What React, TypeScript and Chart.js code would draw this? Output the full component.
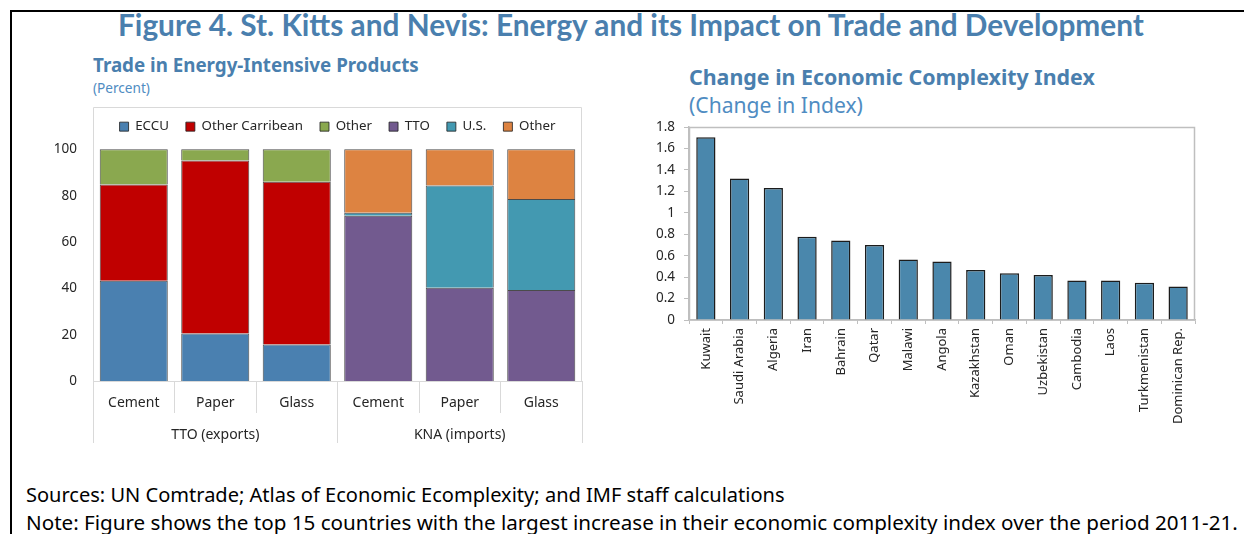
import React, { useEffect, useRef } from 'react';
import { Chart, registerables } from 'chart.js';

Chart.register(...registerables);

// ---------- Data: left chart ----------
const tradeCategories = ['Cement', 'Paper', 'Glass', 'Cement', 'Paper', 'Glass'];
const tradeGroups = ['TTO (exports)', 'KNA (imports)'];
const eccu = [43.3, 20.5, 15.8, null, null, null];
const otherCaribbean = [41.5, 74.7, 70.2, null, null, null];
const otherExports = [15.2, 4.8, 14.0, null, null, null];
const tto = [null, null, null, 71.3, 40.3, 39.3];
const us = [null, null, null, 1.3, 44.1, 39.3];
const otherImports = [null, null, null, 27.4, 15.6, 21.4];
const tradeYTicks = [0, 20, 40, 60, 80, 100];

// ---------- Data: right chart ----------
const countries = ['Kuwait', 'Saudi Arabia', 'Algeria', 'Iran', 'Bahrain', 'Qatar', 'Malawi', 'Angola', 'Kazakhstan', 'Oman', 'Uzbekistan', 'Cambodia', 'Laos', 'Turkmenistan', 'Dominican Rep.'];
const eciChange = [1.705, 1.321, 1.232, 0.777, 0.743, 0.700, 0.565, 0.547, 0.467, 0.436, 0.421, 0.369, 0.369, 0.347, 0.313];
const eciTicks = [0, 0.2, 0.4, 0.6, 0.8, 1, 1.2, 1.4, 1.6, 1.8];
const eciTickLabels = ['0', '0.2', '0.4', '0.6', '0.8', '1', '1.2', '1.4', '1.6', '1.8'];

const FONT = "'Noto Sans', sans-serif";
const TEXT = '#262626';

Chart.defaults.font.family = FONT;
Chart.defaults.color = TEXT;

const measureCtx = typeof document !== 'undefined' ? document.createElement('canvas').getContext('2d') : null;
function fitSize(text: string, family: string, weight: number, width: number) {
  if (!measureCtx) return 16;
  measureCtx.font = `${weight} 100px ${family}`;
  const w = measureCtx.measureText(text).width;
  return (100 * width) / w;
}

function FitText(props: { text: string; left: number; width: number; cy: number; family: string; weight: number; color: string }) {
  const fs = fitSize(props.text, props.family, props.weight, props.width);
  return (
    <div
      style={{
        position: 'absolute',
        left: props.left,
        top: props.cy - 0.53 * fs,
        fontFamily: props.family,
        fontWeight: props.weight,
        fontSize: fs,
        lineHeight: `${fs}px`,
        color: props.color,
        whiteSpace: 'nowrap',
      }}
    >
      {props.text}
    </div>
  );
}

const framePlugin = {
  id: 'frame',
  beforeDatasetsDraw(chart: any, _args: any, opts: any) {
    const { ctx, chartArea: a } = chart;
    const top = opts.top != null ? opts.top : a.top;
    ctx.save();
    ctx.strokeStyle = opts.color || '#d9d9d9';
    ctx.lineWidth = opts.width || 1;
    ctx.beginPath();
    ctx.moveTo(Math.round(a.left) + 0.5, a.bottom);
    ctx.lineTo(Math.round(a.left) + 0.5, Math.round(top) + 0.5);
    ctx.lineTo(Math.round(a.right) - 0.5, Math.round(top) + 0.5);
    ctx.lineTo(Math.round(a.right) - 0.5, a.bottom);
    if (opts.closeBottom) ctx.lineTo(Math.round(a.left) + 0.5, a.bottom);
    ctx.stroke();
    ctx.restore();
  },
};

function TradeChart() {
  const ref = useRef<HTMLCanvasElement>(null);
  useEffect(() => {
    const border = 'rgba(30,30,30,0.8)';
    const mk = (label: string, data: any[], color: string) => ({
      label,
      data,
      backgroundColor: color,
      borderColor: border,
      borderWidth: 1,
      categoryPercentage: 1,
      barPercentage: 0.835,
    });
    const chart = new Chart(ref.current!, {
      type: 'bar',
      data: {
        labels: tradeCategories,
        datasets: [
          mk('ECCU', eccu, '#4a80b0'),
          mk('Other Carribean', otherCaribbean, '#c00000'),
          mk('Other', otherExports, '#8aa84f'),
          mk('TTO', tto, '#725a8f'),
          mk('U.S.', us, '#4399b1'),
          mk('Other', otherImports, '#dd8341'),
        ],
      },
      plugins: [framePlugin],
      options: {
        responsive: false,
        animation: false,
        layout: { padding: { left: 0, right: 18, top: 0, bottom: 0 } },
        plugins: {
          legend: {
            display: true,
            position: 'top',
            align: 'center',
            fullSize: false,
            labels: { boxWidth: 9, boxHeight: 9, padding: 17, color: TEXT, font: { size: 13.3 } },
          },
          tooltip: { enabled: false },
          frame: { top: 4, color: '#d9d9d9', width: 1 },
        } as any,
        scales: {
          x: {
            stacked: true,
            offset: true,
            weight: 0,
            grid: { display: true, offset: true, drawOnChartArea: false, drawTicks: true, tickLength: 32, color: '#d9d9d9' },
            border: { display: true, color: '#d9d9d9' },
            ticks: { padding: -18, color: TEXT, font: { size: 14 }, autoSkip: false, maxRotation: 0 },
            afterFit: (s: any) => { s.height = 32; },
          },
          x2: {
            type: 'category',
            axis: 'x',
            position: 'bottom',
            labels: tradeGroups,
            offset: true,
            weight: 1,
            grid: { display: true, offset: true, drawOnChartArea: false, drawTicks: true, tickLength: 30, color: '#d9d9d9' },
            border: { display: false },
            ticks: { padding: -16, color: TEXT, font: { size: 14 }, autoSkip: false, maxRotation: 0 },
            afterFit: (s: any) => { s.height = 30; },
          },
          y: {
            stacked: true,
            min: 0,
            max: 102.6,
            grid: { display: false, drawTicks: false },
            border: { display: false },
            ticks: { padding: 16, color: TEXT, font: { size: 13.5 } },
            afterBuildTicks: (s: any) => { s.ticks = tradeYTicks.map((v) => ({ value: v })); },
            afterFit: (s: any) => { s.width = 53; },
          },
        } as any,
      },
    });
    return () => chart.destroy();
  }, []);
  return <canvas ref={ref} width={560} height={340} style={{ position: 'absolute', left: 40, top: 103, width: 560, height: 340 }} />;
}

function EciChart() {
  const ref = useRef<HTMLCanvasElement>(null);
  useEffect(() => {
    const chart = new Chart(ref.current!, {
      type: 'bar',
      data: {
        labels: countries,
        datasets: [
          {
            label: 'Change in Index',
            data: eciChange,
            backgroundColor: '#4a87ac',
            borderColor: '#1c1c1c',
            borderWidth: 1.5,
            categoryPercentage: 1,
            barPercentage: 0.57,
          },
        ],
      },
      plugins: [framePlugin],
      options: {
        responsive: false,
        animation: false,
        layout: { padding: { left: 0, right: 25, top: 14, bottom: 0 } },
        plugins: {
          legend: { display: false },
          tooltip: { enabled: false },
          frame: { color: '#bfbfbf', width: 1.5, closeBottom: true },
        } as any,
        scales: {
          x: {
            offset: true,
            grid: { display: true, offset: true, drawOnChartArea: false, drawTicks: true, tickLength: 4, color: '#bfbfbf' },
            border: { display: true, color: '#bfbfbf', width: 1.5 },
            ticks: { padding: 4, color: TEXT, font: { size: 13 }, autoSkip: false, minRotation: 90, maxRotation: 90 },
            afterFit: (s: any) => { s.height = 120; },
          },
          y: {
            min: 0,
            max: 1.8,
            grid: { display: true, drawOnChartArea: false, drawTicks: true, tickLength: 5, color: '#bfbfbf' },
            border: { display: true, color: '#bfbfbf', width: 1.5 },
            ticks: {
              padding: 9,
              color: TEXT,
              font: { size: 13.5 },
              callback: (_v: any, i: number) => eciTickLabels[i],
            },
            afterBuildTicks: (s: any) => { s.ticks = eciTicks.map((v) => ({ value: v })); },
            afterFit: (s: any) => { s.width = 69; },
          },
        } as any,
      },
    });
    return () => chart.destroy();
  }, []);
  return <canvas ref={ref} width={600} height={330} style={{ position: 'absolute', left: 620, top: 110, width: 600, height: 330 }} />;
}

export default function App() {
  const blue = '#4a7fae';
  const light = '#4f8cc2';
  return (
    <div style={{ position: 'fixed', left: 0, top: 0, width: 1244, height: 534, overflow: 'hidden', background: '#fff' }}>
      <div style={{ position: 'absolute', left: 10, top: 10, width: 1300, height: 600, border: '2px solid #000' }} />
      <FitText text="Figure 4. St. Kitts and Nevis: Energy and its Impact on Trade and Development" left={118} width={1028} cy={26} family="Lato, sans-serif" weight={700} color={blue} />
      <FitText text="Trade in Energy-Intensive Products" left={93} width={326} cy={66} family={FONT} weight={700} color={blue} />
      <FitText text="(Percent)" left={93} width={57} cy={88} family={FONT} weight={400} color={light} />
      <FitText text="Change in Economic Complexity Index" left={689} width={406} cy={77} family={FONT} weight={700} color={blue} />
      <FitText text="(Change in Index)" left={689} width={174} cy={105} family={FONT} weight={400} color={light} />
      <TradeChart />
      <EciChart />
      <FitText text="Sources: UN Comtrade; Atlas of Economic Ecomplexity; and IMF staff calculations" left={26} width={759} cy={496} family={FONT} weight={400} color="#000" />
      <FitText text="Note: Figure shows the top 15 countries with the largest increase in their economic complexity index over the period 2011-21." left={26} width={1212} cy={523} family={FONT} weight={400} color="#000" />
    </div>
  );
}
